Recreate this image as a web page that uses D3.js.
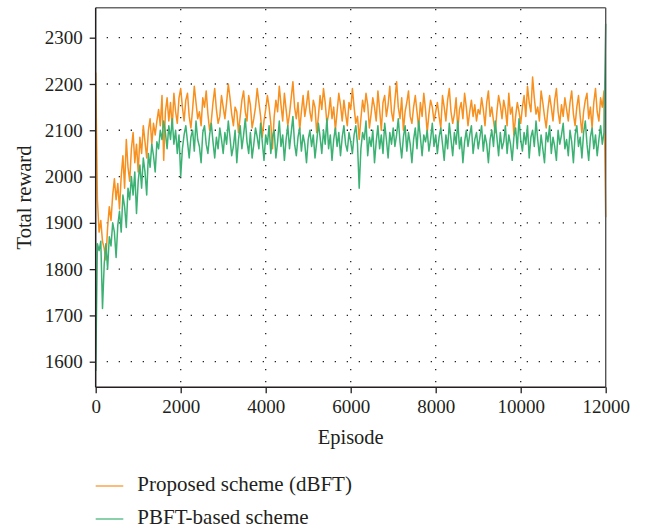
<!DOCTYPE html>
<html>
<head>
<meta charset="utf-8">
<script src="https://cdn.jsdelivr.net/npm/d3@7"></script>
<style>
  html, body { margin: 0; padding: 0; background: #fff; }
  svg { display: block; }
  text { font-family: "Liberation Serif", "Times New Roman", serif; fill: #231f20; }
</style>
</head>
<body>
<svg id="chart" width="647" height="531"></svg>
<script>
// ---- Data ----
const episodeStep = 40;               // one point every 40 episodes, 0..12000
const xTicks = [0, 2000, 4000, 6000, 8000, 10000, 12000];
const yTicks = [1600, 1700, 1800, 1900, 2000, 2100, 2200, 2300];
const seriesNames = ["Proposed scheme (dBFT)", "PBFT-based scheme"];

const dbft = [
  // episodes 0 .. 2000
  2225,1950,1880,1905,1860, 1845,1820,1890,1935,1905, 1960,1995,1950,1985,1930,
  2000,2045,1975,2080,2020, 1990,2060,2095,2030,2070, 2010,2085,2050,2110,2075,
  2040,2100,2125,2070,2115, 2090,2120,2145,2110,2175, 2035,2140,2170,2120,2160,
  2105,2180,2140,2115,2170, 2190,
  // episodes 2040 .. 12000
  2150,2120,2165,2180,2130, 2105,2145,2195,2160,2125, 2140,2110,2170,2150,2185, 2135,2100,2120,2160,2190, 2145,2115,2130,2175,2150,
  2125,2160,2200,2170,2135, 2110,2150,2140,2095,2130, 2165,2185,2140,2120,2175, 2155,2105,2125,2150,2190, 2160,2130,2085,2120,2145,
  2175,2150,2115,2060,2130, 2165,2140,2195,2155,2120, 2180,2145,2110,2135,2170, 2205,2150,2125,2160,2100, 2140,2175,2130,2155,2185,
  2140,2120,2165,2150,2095, 2130,2175,2145,2190,2160, 2115,2135,2170,2125,2150, 2100,2140,2180,2155,2120, 2165,2135,2110,2160,2145,
  2190,2150,2115,2130,2080, 2125,2165,2140,2180,2155, 2105,2135,2170,2150,2120, 2185,2145,2100,2160,2175, 2130,2155,2195,2140,2120,
  2165,2205,2150,2125,2170, 2100,2140,2160,2185,2130, 2115,2150,2175,2140,2105, 2160,2130,2180,2145,2095, 2135,2165,2150,2120,2140,
  2160,2130,2105,2175,2150, 2120,2165,2190,2140,2115, 2135,2170,2100,2145,2160, 2125,2180,2150,2110,2140, 2165,2130,2155,2120,2145,
  2135,2170,2145,2110,2160, 2185,2130,2150,2120,2095, 2140,2175,2155,2125,2165, 2145,2110,2180,2135,2150, 2090,2130,2160,2140,2115,
  2150,2175,2130,2195,2160, 2140,2215,2170,2135,2150, 2120,2185,2160,2130,2105, 2145,2175,2150,2120,2165, 2190,2140,2115,2155,2130,
  2170,2145,2120,2160,2185, 2135,2110,2150,2175,2130, 2095,2140,2165,2180,2125, 2150,2105,2160,2190,2140, 2120,2170,2150,2185,1912
];

const pbft = [
  // episodes 0 .. 2000
  1580,1855,1840,1860,1715, 1810,1855,1800,1870,1850, 1900,1880,1825,1895,1925,
  1880,1960,1935,1890,1975, 1950,2000,1960,2010,1920, 1990,2025,1975,2040,2010,
  1960,2050,2020,2070,2045, 2010,2075,2060,2100,2080, 2120,2095,2060,2110,2080,
  2125,2070,2100,2050,2090, 2000,
  // episodes 2040 .. 12000
  2060,2090,2110,2075,2040, 2085,2100,2055,2120,2080, 2065,2030,2095,2110,2070, 2050,2090,2115,2075,2040, 2085,2060,2105,2080,2050,
  2095,2070,2120,2085,2045, 2065,2100,2030,2080,2110, 2060,2090,2125,2075,2050, 2095,2040,2070,2105,2085, 2060,2115,2075,2035,2090,
  2070,2110,2050,2085,2100, 2040,2075,2120,2065,2090, 2035,2080,2110,2060,2095, 2130,2070,2045,2085,2105, 2055,2090,2070,2030,2080,
  2100,2065,2090,2040,2075, 2115,2085,2050,2100,2070, 2125,2060,2090,2035,2080, 2105,2065,2095,2045,2085, 2110,2070,2055,2095,2075,
  2050,2090,2110,2070,1975, 2060,2095,2080,2120,2045, 2085,2065,2100,2030,2075, 2110,2060,2090,2050,2115, 2080,2040,2095,2070,2105,
  2065,2090,2125,2075,2040, 2085,2110,2055,2095,2070, 2030,2080,2105,2060,2120, 2085,2045,2090,2075,2100, 2055,2080,2115,2065,2090,
  2050,2085,2105,2070,2035, 2090,2060,2115,2080,2045, 2095,2070,2120,2060,2085, 2030,2075,2100,2065,2090, 2110,2050,2080,2095,2060,
  2085,2110,2055,2090,2070, 2030,2080,2100,2065,2120, 2085,2045,2095,2060,2075, 2110,2050,2090,2070,2035, 2085,2105,2060,2125,2080,
  2055,2095,2070,2110,2040, 2085,2100,2065,2120,2080, 2045,2090,2060,2030,2095, 2075,2110,2050,2085,2065, 2035,2100,2070,2090,2115,
  2060,2080,2045,2100,2075, 2030,2090,2110,2065,2085, 2040,2095,2120,2070,2035, 2085,2105,2060,2090,2045, 2080,2110,2070,2095,2330
];

// ---- Layout ----
const svg = d3.select("#chart");
const pLeft = 95.7, pRight = 605.7, pTop = 7.7, pBottom = 387.3;
const colors = ["#f7901e", "#3bb273"];

const x = d3.scaleLinear().domain([0, 12000]).range([pLeft, pRight]);
const y = d3.scaleLinear().domain([1544.7, 2364.8]).range([pBottom, pTop]);

// dotted grid
const grid = svg.append("g");
grid.selectAll("line.h").data(yTicks).enter().append("line")
  .attr("x1", pLeft).attr("x2", pRight)
  .attr("y1", d => y(d)).attr("y2", d => y(d))
  .attr("stroke", "#222").attr("stroke-width", 1.3)
  .attr("stroke-dasharray", "1.3 10.7").attr("stroke-dashoffset", -11);
grid.selectAll("line.v").data(xTicks.slice(1, -1)).enter().append("line")
  .attr("x1", d => x(d)).attr("x2", d => x(d))
  .attr("y1", pBottom).attr("y2", pTop)
  .attr("stroke", "#222").attr("stroke-width", 1.3)
  .attr("stroke-dasharray", "1.3 10.7").attr("stroke-dashoffset", -5);

// series
const line = d3.line()
  .x((d, i) => x(i * episodeStep))
  .y(d => y(d));

[dbft, pbft].forEach((s, k) => {
  svg.append("path")
    .datum(s)
    .attr("d", line)
    .attr("fill", "none")
    .attr("stroke", colors[k])
    .attr("stroke-width", 1.5)
    .attr("stroke-linejoin", "round");
});

// frame: top & right lighter
svg.append("line").attr("x1", pLeft).attr("x2", pRight).attr("y1", pTop).attr("y2", pTop)
  .attr("stroke", "#6a6a6a").attr("stroke-width", 1.4);
svg.append("line").attr("x1", pRight).attr("x2", pRight).attr("y1", pTop).attr("y2", pBottom)
  .attr("stroke", "#555").attr("stroke-width", 1.4);

// axes
const xAxis = d3.axisBottom(x).tickValues(xTicks).tickSize(6).tickPadding(6).tickFormat(d3.format("d"));
const yAxis = d3.axisLeft(y).tickValues(yTicks).tickSize(6).tickPadding(7).tickFormat(d3.format("d"));

const gx = svg.append("g").attr("transform", `translate(0,${pBottom})`).call(xAxis);
const gy = svg.append("g").attr("transform", `translate(${pLeft},0)`).call(yAxis);

[gx, gy].forEach(g => {
  g.select(".domain").attr("stroke", "#231f20").attr("stroke-width", 1.5);
  g.selectAll(".tick line").attr("stroke", "#231f20").attr("stroke-width", 1.3);
  g.selectAll(".tick text").style("font-family", '"Liberation Serif", serif')
    .style("font-size", "19px").attr("fill", "#231f20");
});
gx.selectAll(".tick text").attr("dy", "0.71em");
gy.select(".domain").attr("d", `M0,${pBottom}V${pTop}`);
gx.select(".domain").attr("d", `M${pLeft},0H${pRight}`);

// axis titles
svg.append("text")
  .attr("x", (pLeft + pRight) / 2).attr("y", 444)
  .attr("text-anchor", "middle")
  .style("font-size", "20.5px")
  .text("Episode");

svg.append("text")
  .attr("transform", `translate(30.5,${(pTop + pBottom) / 2}) rotate(-90)`)
  .attr("text-anchor", "middle")
  .style("font-size", "20.5px")
  .text("Total reward");

// legend
const legendY = [486, 519];
seriesNames.forEach((name, k) => {
  svg.append("line")
    .attr("x1", 95.7).attr("x2", 123.3)
    .attr("y1", legendY[k]).attr("y2", legendY[k])
    .attr("stroke", colors[k]).attr("stroke-width", 1.2);
  svg.append("text")
    .attr("x", 137.3).attr("y", legendY[k] + 5.2)
    .style("font-size", "21px")
    .text(name);
});
</script>
</body>
</html>
